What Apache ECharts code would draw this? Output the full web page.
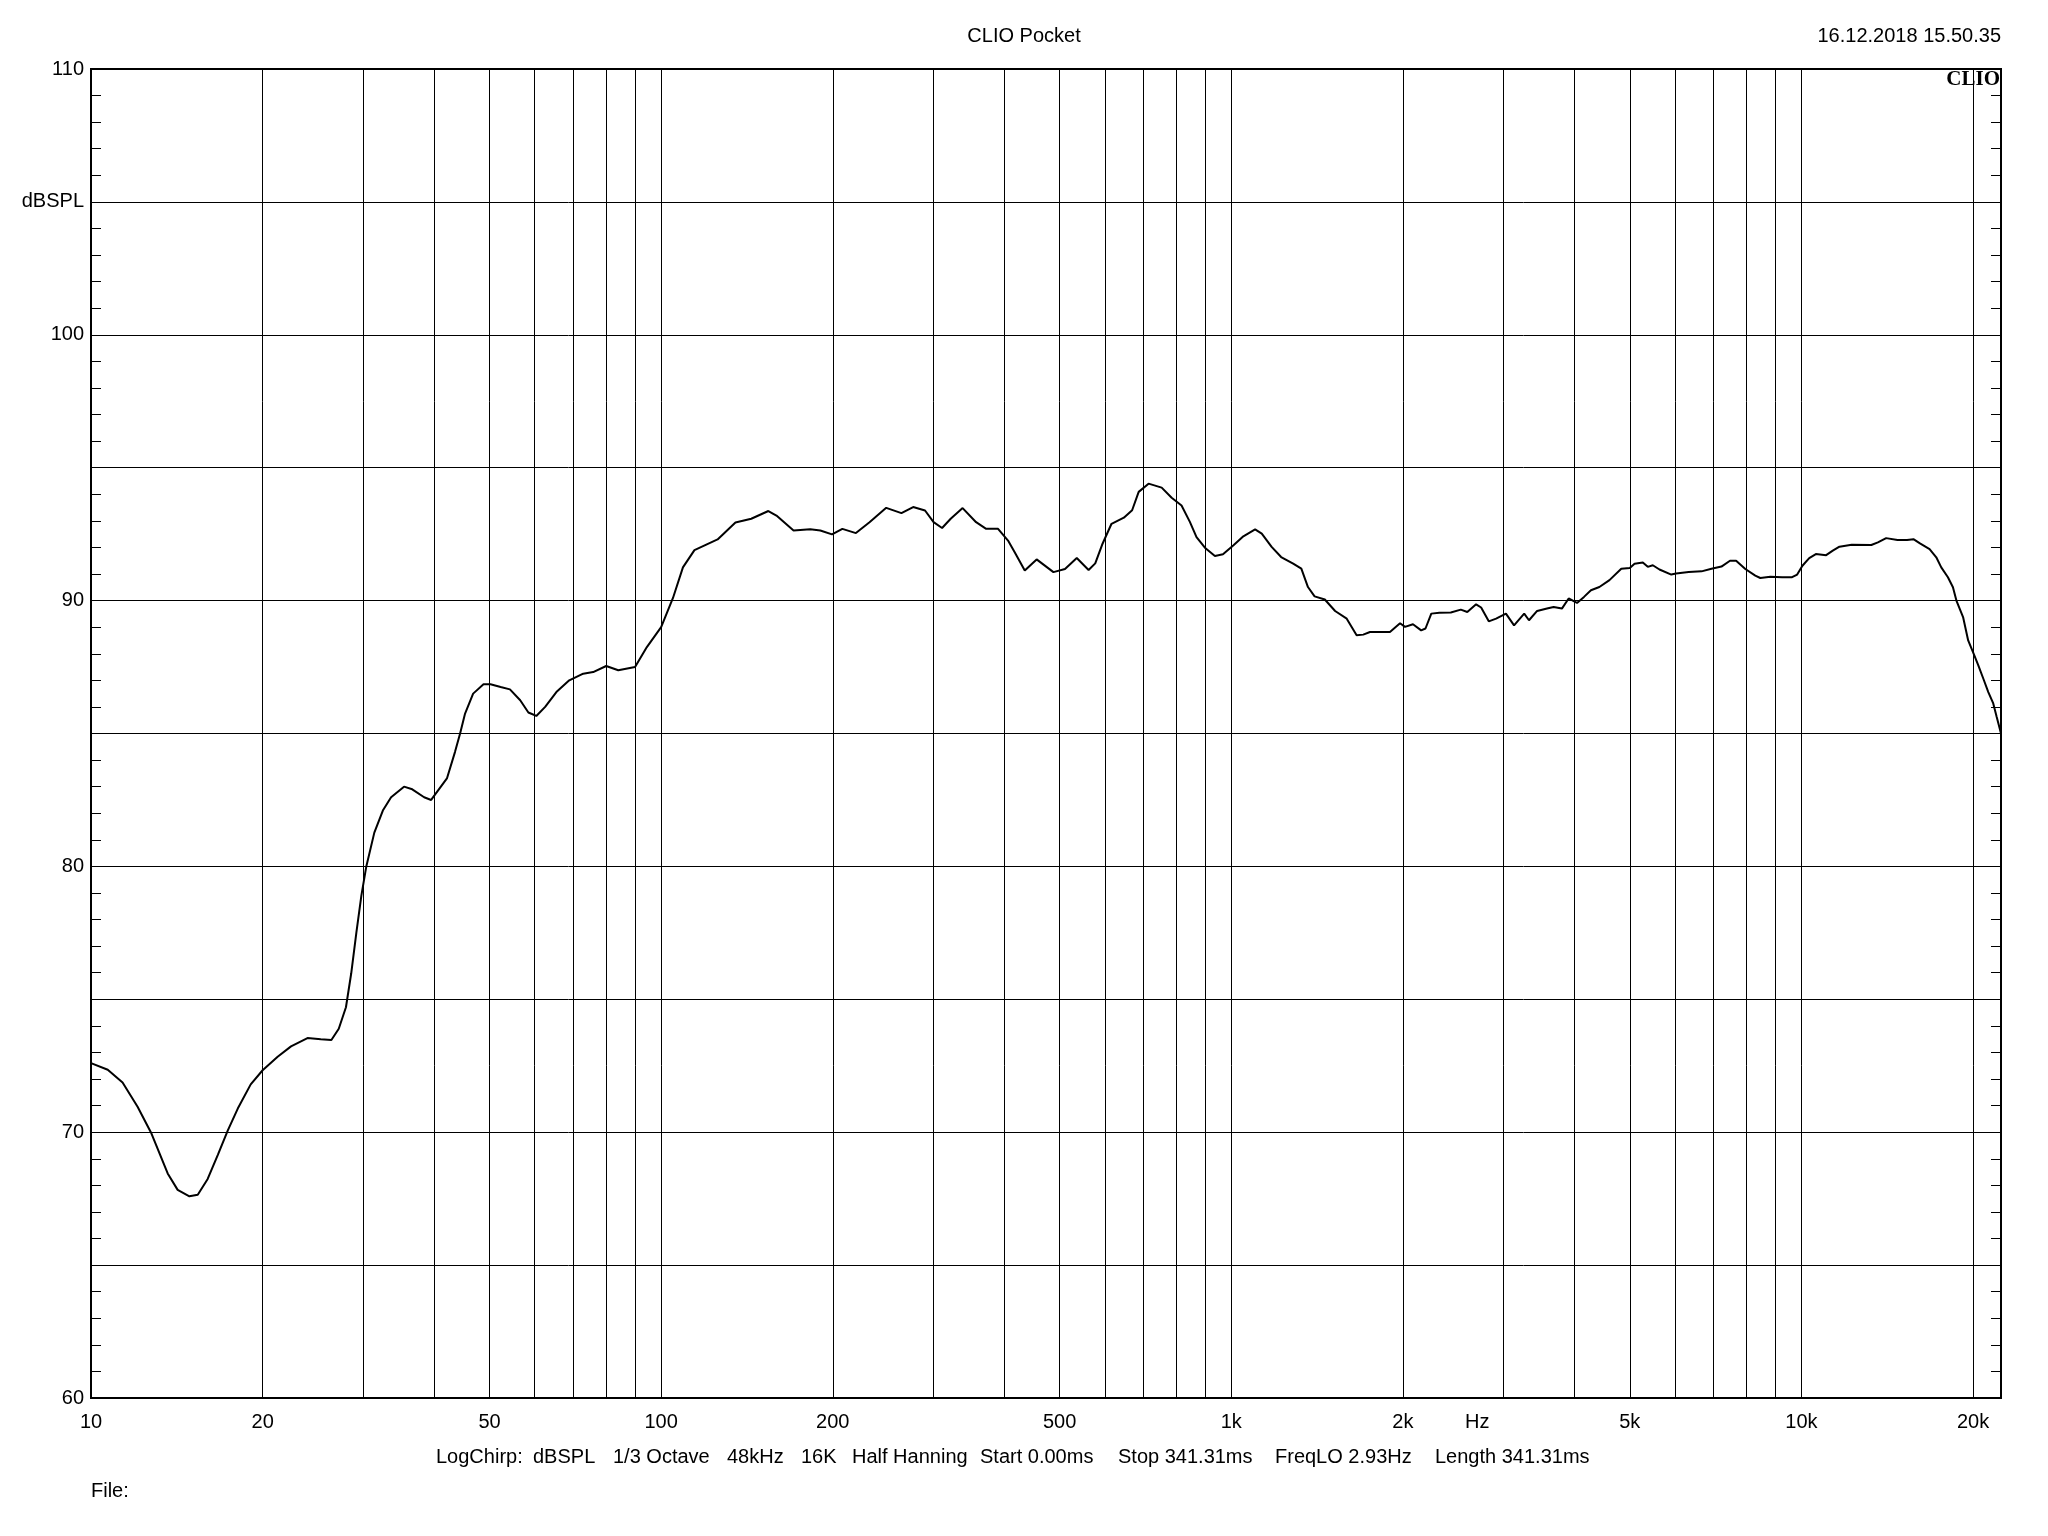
<!DOCTYPE html>
<html>
<head>
<meta charset="utf-8">
<style>
  html, body { margin: 0; padding: 0; background: #fff; }
  #chart { width: 2048px; height: 1536px; }
</style>
<script src="https://cdn.jsdelivr.net/npm/echarts@6/dist/echarts.min.js"></script>
</head>
<body>
<div id="chart"></div>
<script>
// ---- Data ----
const freqHz = [
  10, 10.7, 11.36, 12.07, 12.74, 13.63, 14.19, 14.88, 15.39, 16.02, 16.69, 17.37, 18.09, 19.06,
  20, 21.25, 22.43, 23.97, 25.3, 26.4, 27.2, 28, 28.6, 29.2, 29.8, 30.4, 31.4, 32.5, 33.6, 35.4,
  36.6, 38.4, 39.5, 42.1, 43.5, 44.4, 45.3, 46.8, 48.8, 50.2, 52.3, 54.3, 56.6, 58.5, 60.4, 62.6,
  65.5, 69, 73, 76, 80.1, 84.1, 90, 94.4, 100, 104.9, 109.2, 114.4, 125.6, 135, 143.9, 154.2,
  159.3, 170.7, 182.6, 190.2, 199.4, 207.9, 219.6, 232, 248.2, 263.9, 276.7, 290.3, 300.5, 311,
  322, 337.9, 356.8, 371.6, 389.9, 405.9, 417, 434.3, 455.6, 487.6, 510.9, 535.8, 562, 577.3,
  593.5, 616.5, 648, 670, 688, 716, 755, 786, 818, 846, 869, 899, 936, 967, 1009, 1050, 1101,
  1131, 1177, 1223, 1284, 1327, 1363, 1400, 1459, 1521, 1594, 1659, 1704, 1751, 1835, 1898, 1977,
  2017, 2083, 2153, 2191, 2243, 2317, 2427, 2527, 2594, 2688, 2743, 2829, 2914, 3032, 3133, 3264,
  3328, 3439, 3579, 3676, 3801, 3906, 4040, 4156, 4274, 4422, 4606, 4831, 5000, 5097, 5270, 5377,
  5487, 5637, 5912, 6027, 6343, 6681, 6954, 7240, 7494, 7682, 7973, 8300, 8470, 8820, 9250, 9630,
  9830, 10040, 10320, 10600, 11050, 11350, 11660, 12250, 13260, 13620, 14080, 14740, 15320, 15720,
  16140, 16780, 17240, 17590, 18070, 18440, 18700, 19210, 19610, 20020, 20430, 20850, 21270, 21700,
  22000, 22390
];
const splDb = [
  72.6, 72.35, 71.87, 70.96, 69.99, 68.45, 67.83, 67.59, 67.65, 68.24, 69.15, 70.06, 70.89, 71.8,
  72.33, 72.84, 73.23, 73.54, 73.5, 73.47, 73.89, 74.7, 75.97, 77.5, 78.9, 80.0, 81.27, 82.1, 82.6, 83.0,
  82.9, 82.6, 82.5, 83.31, 84.31, 85.0, 85.75, 86.5, 86.85, 86.85, 86.75, 86.66, 86.25, 85.79, 85.66, 86.0,
  86.56, 87.0, 87.25, 87.31, 87.54, 87.38, 87.5, 88.25, 89.0, 90.1, 91.25, 91.9, 92.3, 92.94, 93.08, 93.37,
  93.2, 92.64, 92.68, 92.64, 92.49, 92.7, 92.54, 92.95, 93.49, 93.29, 93.52, 93.39, 92.95, 92.73,
  93.08, 93.48, 92.95, 92.7, 92.7, 92.26, 91.82, 91.13, 91.55, 91.07, 91.19, 91.6, 91.15, 91.4,
  92.1, 92.89, 93.12, 93.4, 94.09, 94.4, 94.25, 93.87, 93.58, 92.96, 92.39, 91.99, 91.68, 91.74, 92.08, 92.42, 92.68,
  92.52, 92.02, 91.64, 91.39, 91.2, 90.51, 90.16, 90.04, 89.61, 89.32, 88.7, 88.72, 88.82, 88.82, 88.82, 89.15,
  89.01, 89.11, 88.88, 88.95, 89.51, 89.54, 89.55, 89.66, 89.57, 89.86, 89.74, 89.22, 89.32, 89.51, 89.07, 89.51,
  89.26, 89.61, 89.7, 89.76, 89.7, 90.08, 89.91, 90.14, 90.39, 90.51, 90.77, 91.2, 91.23, 91.39, 91.43, 91.27,
  91.33, 91.17, 90.98, 91.02, 91.08, 91.1, 91.2, 91.28, 91.5, 91.5, 91.19, 90.94, 90.85, 90.9, 90.88, 90.88,
  90.98, 91.31, 91.6, 91.75, 91.71, 91.88, 92.03, 92.1, 92.09, 92.19, 92.35, 92.28, 92.28, 92.31,
  92.15, 91.94, 91.63, 91.25, 90.88, 90.5, 90.0, 89.38, 88.5, 88.03, 87.56, 87.06, 86.56, 86.13,
  85.63, 85.0
];
const gridFreqs = [10, 20, 30, 40, 50, 60, 70, 80, 90, 100, 200, 300, 400, 500, 600, 700, 800, 900,
  1000, 2000, 3000, 4000, 5000, 6000, 7000, 8000, 9000, 10000, 20000];
const labelFreqs = [10, 20, 50, 100, 200, 500, 1000, 2000, 2700, 5000, 10000, 20000];
const hzLabelFreq = 2700;
const yLabels = { 110: '110', 105: 'dBSPL', 100: '100', 90: '90', 80: '80', 70: '70', 60: '60' };
const titleText = 'CLIO Pocket';
const dateText = '16.12.2018 15.50.35';
const brandText = 'CLIO';
const footerItems = ['LogChirp:', 'dBSPL', '1/3 Octave', '48kHz', '16K', 'Half Hanning',
  'Start 0.00ms', 'Stop 341.31ms', 'FreqLO 2.93Hz', 'Length 341.31ms'];
const footerX = [436, 533, 613, 727, 801, 852, 980, 1118, 1275, 1435];
const fileText = 'File:';

// ---- Chart ----
const FONT = "'Liberation Sans', Arial, sans-serif";
const FS = 20;
const chart = echarts.init(document.getElementById('chart'));
const points = freqHz.map((f, i) => [f, splDb[i]]);

function fmtFreq(v) {
  const r = Math.round(v);
  if (Math.abs(r - hzLabelFreq) < 1) return 'Hz';
  if (r >= 1000) return (r / 1000) + 'k';
  return String(r);
}

const yAxisCommon = {
  type: 'value', min: 60, max: 110, interval: 5,
  axisLine: { show: true, lineStyle: { color: '#000', width: 2 } },
  axisTick: { show: true, inside: true, length: 10, lineStyle: { color: '#000', width: 1 } },
  minorTick: { show: true, splitNumber: 5, length: 10, lineStyle: { color: '#000', width: 1 } },
};

const footerGraphics = footerItems.map((t, i) => ({
  type: 'text', left: footerX[i], top: 1447,
  style: { text: t, fill: '#000', font: FS + 'px ' + FONT }
}));

chart.setOption({
  animation: false,
  backgroundColor: '#fff',
  grid: { left: 91, right: 47, top: 69, bottom: 138, show: true, borderColor: '#000', borderWidth: 2, containLabel: false },
  xAxis: {
    type: 'log', logBase: 10, min: 10, max: 22390,
    axisLine: { show: true, onZero: false, lineStyle: { color: '#000', width: 2 } },
    axisTick: { show: false, customValues: gridFreqs },
    minorTick: { show: false },
    axisLabel: {
      show: true, customValues: labelFreqs, formatter: fmtFreq, margin: 14,
      color: '#000', fontSize: FS, fontFamily: FONT, showMinLabel: true, showMaxLabel: true
    },
    splitLine: { show: true, lineStyle: { color: '#000', width: 1 } }
  },
  yAxis: [
    Object.assign({}, yAxisCommon, {
      position: 'left',
      axisLabel: {
        show: true, margin: 7, color: '#000', fontSize: FS, fontFamily: FONT,
        formatter: v => yLabels[Math.round(v)] || ''
      },
      splitLine: { show: true, lineStyle: { color: '#000', width: 1 } }
    }),
    Object.assign({}, yAxisCommon, {
      position: 'right',
      axisLabel: { show: false },
      splitLine: { show: false }
    })
  ],
  series: [{
    type: 'line', data: points, xAxisIndex: 0, yAxisIndex: 0,
    showSymbol: false, symbol: 'none', smooth: false,
    lineStyle: { color: '#000', width: 2 }
  }],
  graphic: [
    { type: 'text', left: 'center', top: 26, style: { text: titleText, fill: '#000', font: FS + 'px ' + FONT } },
    { type: 'text', right: 47, top: 26, style: { text: dateText, fill: '#000', font: FS + 'px ' + FONT } },
    { type: 'text', right: 48, top: 69, z: 10, style: { text: brandText, fill: '#000', font: "bold 21px 'Liberation Serif', 'Times New Roman', serif" } },
    { type: 'text', left: 91, top: 1481, style: { text: fileText, fill: '#000', font: FS + 'px ' + FONT } }
  ].concat(footerGraphics)
});
</script>
</body>
</html>
